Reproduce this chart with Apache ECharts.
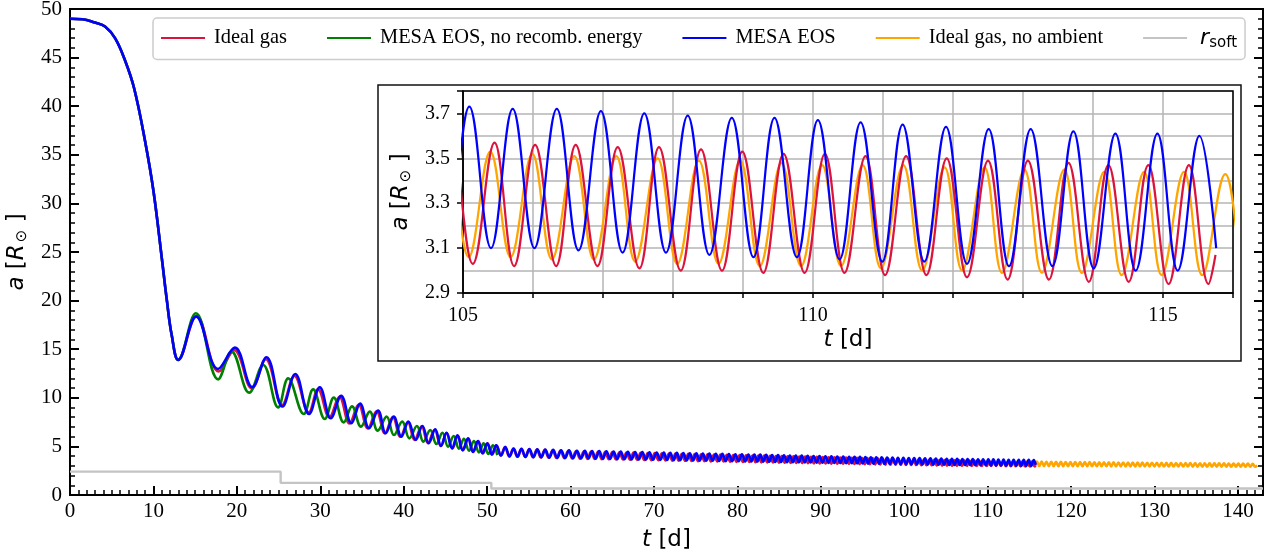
<!DOCTYPE html>
<html>
<head>
<meta charset="utf-8">
<script src="https://cdn.jsdelivr.net/npm/echarts@6.0.0/dist/echarts.min.js"></script>
<style>
  html, body { margin: 0; padding: 0; background: #fff; }
  #chart { width: 1272px; height: 558px; }
</style>
</head>
<body>
<div id="chart"></div>
<script>
// Orbital separation a [R_sun] against time t [d] for four runs of the same inspiral.
// Each run is stored as its turning points (maxima and minima of a), plus the common plunge.

// common plunge before the first minimum
const infall = [[0,49.0],[1.5,48.95],[3,48.6],[4.2,48.2],[5.4,47.0],[6.6,44.7],[7.7,41.8],[9.0,36.4],[10.0,31.3],[11.0,24.4],[11.6,20.1],[12.2,16.4],[12.97,13.9]];

// Ideal gas
const redPeaks = [[15.17,18.4],[19.7,14.9],[23.47,13.97],[26.9,12.25],[29.74,10.87],[32.3,10.1],[34.6,9.3],[36.75,8.62],[38.7,8.02],[40.5,7.5],[42.15,7.07],[43.7,6.72],[45.15,6.38],[46.5,6.1],[47.75,5.82],[48.93,5.56],[50.05,5.32],[51.12,5.12],[52.15,4.94],[53.15,4.76],
[54.09,4.73],[55.03,4.70],[55.97,4.67],[56.91,4.64],[57.85,4.61],[58.79,4.58],[59.73,4.55],[60.67,4.52],[61.61,4.50],
[62.46,4.48],[63.31,4.46],[64.16,4.44],[65.01,4.42],[65.86,4.40],[66.71,4.38],[67.56,4.36],[68.41,4.34],[69.26,4.32],[70.11,4.31],[70.96,4.29],[71.81,4.27],
[72.58,4.26],[73.35,4.24],[74.12,4.23],[74.89,4.21],[75.66,4.20],[76.43,4.18],[77.20,4.17],[77.97,4.15],[78.74,4.14],[79.51,4.12],[80.28,4.10],[81.05,4.09],[81.82,4.07],
[82.52,4.06],[83.22,4.05],[83.92,4.03],[84.62,4.02],[85.32,4.00],[86.02,3.99],[86.72,3.98],[87.42,3.96],[88.12,3.95],[88.82,3.93],[89.52,3.92],[90.22,3.91],[90.92,3.89],[91.62,3.88],[92.32,3.86],[93.02,3.85],[93.72,3.84],
[94.34,3.82],[94.95,3.81],[95.57,3.80],[96.19,3.79],[96.81,3.77],[97.42,3.76],[98.04,3.75],[98.66,3.74],[99.27,3.72],[99.89,3.71],[100.51,3.70],[101.12,3.68],[101.74,3.66],[102.36,3.65],[102.98,3.63],[103.59,3.62],[104.21,3.60],[104.83,3.59],
[105.45,3.57],[106.03,3.56],[106.61,3.56],[107.21,3.55],[107.80,3.55],[108.40,3.54],[108.99,3.53],[109.58,3.52],[110.17,3.52],[110.75,3.51],[111.33,3.51],[111.91,3.50],[112.50,3.49],[113.07,3.49],[113.65,3.48],[114.22,3.47],[114.79,3.47],[115.37,3.47]];
const redTroughs = [[17.84,12.7],[21.8,10.98],[25.43,9.25],[28.62,8.5],[31.1,8.0],[33.5,7.35],[35.7,6.85],[37.75,6.35],[39.6,6.0],[41.3,5.66],[42.9,5.33],[44.45,5.04],[45.85,4.80],[47.1,4.60],[48.35,4.43],[49.5,4.29],[50.6,4.17],[51.65,4.06],[52.65,3.97],
[53.62,3.93],[54.56,3.91],[55.50,3.88],[56.44,3.86],[57.38,3.83],[58.32,3.80],[59.26,3.78],[60.20,3.76],[61.14,3.74],
[62.04,3.72],[62.89,3.71],[63.74,3.69],[64.59,3.68],[65.44,3.66],[66.29,3.65],[67.14,3.63],[67.99,3.62],[68.84,3.60],[69.69,3.59],[70.54,3.57],[71.39,3.56],
[72.20,3.54],[72.97,3.53],[73.74,3.52],[74.51,3.50],[75.28,3.49],[76.05,3.48],[76.82,3.46],[77.59,3.45],[78.36,3.44],[79.13,3.42],[79.90,3.41],[80.67,3.40],[81.44,3.39],
[82.17,3.38],[82.87,3.36],[83.57,3.35],[84.27,3.34],[84.97,3.33],[85.67,3.32],[86.37,3.31],[87.07,3.30],[87.77,3.29],[88.47,3.28],[89.17,3.26],[89.87,3.25],[90.57,3.24],[91.27,3.23],[91.97,3.22],[92.67,3.21],[93.37,3.20],
[94.03,3.19],[94.65,3.18],[95.26,3.17],[95.88,3.16],[96.50,3.15],[97.12,3.14],[97.73,3.13],[98.35,3.12],[98.97,3.12],[99.58,3.11],[100.20,3.10],[100.82,3.09],[101.43,3.08],[102.05,3.07],[102.67,3.06],[103.28,3.06],[103.90,3.05],[104.52,3.04],
[105.14,3.03],[105.73,3.02],[106.33,3.02],[106.92,3.02],[107.52,3.01],[108.11,3.00],[108.70,3.00],[109.29,2.99],[109.88,2.99],[110.45,2.99],[111.03,2.98],[111.62,2.98],[112.20,2.97],[112.78,2.96],[113.37,2.96],[113.94,2.95],[114.51,2.95],[115.08,2.94],[115.65,2.94]];
const redEnd = [[115.75,3.07]];

// MESA EOS, no recombination energy
const greenPeaks = [[15.09,18.7],[19.36,14.75],[23.15,13.38],[26.15,12.0],[29.14,10.87],[31.62,10.02],[33.8,9.12],[35.93,8.58],[37.95,8.06],[39.82,7.55],[41.58,7.10],[43.18,6.69],[44.64,6.41],[45.99,6.07],[47.22,5.79],[48.42,5.56],[49.58,5.32],[50.7,5.12]];
const greenTroughs = [[17.76,11.9],[21.48,10.53],[24.95,9.02],[28.02,8.33],[30.54,7.82],[32.8,7.47],[34.88,7.03],[36.88,6.62],[38.83,6.17],[40.68,5.83],[42.36,5.49],[43.92,5.25],[45.32,4.97],[46.62,4.77],[47.83,4.56],[49.02,4.39],[50.15,4.22],[51.22,4.10]];

// MESA EOS
const bluePeaks = [[15.12,18.35],[19.76,15.16],[23.55,14.17],[27.0,12.45],[29.94,11.08],[32.5,10.2],[34.77,9.4],[36.92,8.68],[38.8,8.06],[40.56,7.55],[42.24,7.10],[43.78,6.76],[45.13,6.41],[46.43,6.14],[47.71,5.83],[48.9,5.56],[50.02,5.32],[51.1,5.11],[52.18,4.93],
[53.17,4.77],[54.12,4.75],[55.07,4.72],[56.02,4.69],[56.97,4.67],[57.92,4.64],[58.87,4.61],[59.82,4.59],[60.77,4.56],[61.72,4.55],
[62.58,4.53],[63.44,4.51],[64.30,4.49],[65.16,4.48],[66.02,4.46],[66.88,4.44],[67.74,4.43],[68.60,4.41],[69.46,4.39],[70.32,4.37],[71.18,4.36],
[71.96,4.34],[72.74,4.33],[73.52,4.32],[74.30,4.30],[75.08,4.29],[75.86,4.27],[76.64,4.26],[77.42,4.25],[78.20,4.23],[78.98,4.22],[79.76,4.20],[80.54,4.19],[81.32,4.17],
[82.03,4.16],[82.74,4.15],[83.45,4.13],[84.16,4.12],[84.87,4.10],[85.58,4.09],[86.29,4.07],[87.00,4.06],[87.71,4.05],[88.42,4.03],[89.13,4.02],[89.84,4.00],[90.55,3.99],[91.26,3.98],[91.97,3.96],[92.68,3.95],[93.39,3.94],
[94.04,3.93],[94.69,3.92],[95.34,3.90],[95.99,3.89],[96.64,3.88],[97.29,3.87],[97.94,3.86],[98.59,3.85],[99.24,3.84],[99.89,3.82],[100.54,3.81],[101.19,3.80],[101.84,3.79],[102.49,3.78],[103.14,3.77],[103.79,3.76],[104.44,3.74],
[105.09,3.73],[105.71,3.72],[106.34,3.72],[106.97,3.71],[107.59,3.70],[108.21,3.69],[108.84,3.68],[109.45,3.68],[110.07,3.67],[110.68,3.66],[111.28,3.65],[111.90,3.64],[112.51,3.63],[113.11,3.63],[113.72,3.62],[114.32,3.61],[114.92,3.61],[115.52,3.60]];
const blueTroughs = [[17.76,12.97],[21.84,11.1],[25.47,9.1],[28.66,8.33],[31.26,7.89],[33.73,7.38],[35.85,6.86],[37.84,6.35],[39.72,6.0],[41.44,5.66],[43.0,5.32],[44.47,5.04],[45.79,4.80],[47.07,4.60],[48.3,4.43],[49.46,4.29],[50.57,4.17],[51.65,4.06],[52.69,3.97],
[53.65,3.94],[54.60,3.92],[55.55,3.89],[56.50,3.87],[57.45,3.84],[58.40,3.82],[59.35,3.80],[60.30,3.78],[61.25,3.76],
[62.15,3.75],[63.01,3.73],[63.87,3.72],[64.73,3.70],[65.59,3.69],[66.45,3.68],[67.31,3.66],[68.17,3.65],[69.03,3.64],[69.89,3.62],[70.75,3.61],
[71.57,3.60],[72.35,3.58],[73.13,3.57],[73.91,3.56],[74.69,3.55],[75.47,3.54],[76.25,3.53],[77.03,3.52],[77.81,3.50],[78.59,3.49],[79.37,3.48],[80.15,3.47],[80.93,3.46],
[81.68,3.45],[82.39,3.44],[83.10,3.43],[83.81,3.42],[84.52,3.40],[85.23,3.39],[85.94,3.38],[86.65,3.37],[87.36,3.36],[88.07,3.35],[88.78,3.34],[89.49,3.33],[90.20,3.32],[90.91,3.31],[91.62,3.30],[92.33,3.29],[93.04,3.28],
[93.72,3.27],[94.37,3.26],[95.02,3.25],[95.67,3.24],[96.32,3.23],[96.97,3.22],[97.62,3.21],[98.27,3.20],[98.92,3.19],[99.57,3.18],[100.22,3.17],[100.87,3.16],[101.52,3.15],[102.17,3.14],[102.82,3.13],[103.47,3.12],[104.12,3.12],[104.77,3.11],
[105.40,3.10],[106.02,3.10],[106.65,3.09],[107.28,3.08],[107.90,3.08],[108.52,3.07],[109.15,3.06],[109.77,3.06],[110.38,3.05],[110.99,3.04],[111.59,3.04],[112.20,3.03],[112.80,3.02],[113.42,3.02],[114.01,3.01],[114.61,3.00],[115.21,3.00]];
const blueEnd = [[115.76,3.10]];

// Ideal gas, no ambient medium (runs longest)
const orangePeaks = [[104.79,3.54],[105.39,3.53],[105.99,3.52],[106.59,3.51],[107.19,3.51],[107.78,3.50],[108.37,3.49],[108.96,3.49],[109.55,3.48],[110.13,3.47],[110.71,3.47],[111.29,3.47],[111.88,3.46],[112.45,3.46],[113.02,3.45],[113.59,3.45],[114.16,3.44],[114.73,3.44],[115.30,3.44],[115.89,3.43],
[116.47,3.43],[117.04,3.42],[117.62,3.42],[118.19,3.41],[118.77,3.41],[119.34,3.40],[119.92,3.40],[120.49,3.39],[121.07,3.39],[121.64,3.38],[122.22,3.38],[122.79,3.37],[123.37,3.37],[123.94,3.36],[124.52,3.36],[125.09,3.36],[125.67,3.35],[126.24,3.35],[126.82,3.34],[127.39,3.34],[127.97,3.33],[128.54,3.33],[129.12,3.32],[129.69,3.32],[130.27,3.31],[130.84,3.31],[131.42,3.30],[131.99,3.30],[132.57,3.29],[133.14,3.29],[133.72,3.29],[134.29,3.28],[134.87,3.28],[135.44,3.27],[136.02,3.27],[136.59,3.26],[137.17,3.26],[137.74,3.25],[138.32,3.25],[138.89,3.24],[139.47,3.24],[140.04,3.23],[140.62,3.23],[141.19,3.23],[141.77,3.22]];
const orangeTroughs = [[104.49,3.07],[105.08,3.06],[105.68,3.06],[106.27,3.05],[106.87,3.05],[107.46,3.04],[108.06,3.03],[108.65,3.03],[109.24,3.02],[109.83,3.02],[110.40,3.02],[110.97,3.01],[111.56,3.00],[112.13,3.00],[112.70,2.99],[113.27,2.99],[113.84,2.99],[114.41,2.98],[114.98,2.98],[115.56,2.98],
[116.18,2.98],[116.75,2.98],[117.33,2.98],[117.90,2.97],[118.48,2.97],[119.05,2.97],[119.63,2.97],[120.20,2.97],[120.78,2.97],[121.35,2.96],[121.93,2.96],[122.50,2.96],[123.08,2.96],[123.65,2.96],[124.23,2.96],[124.80,2.95],[125.38,2.95],[125.95,2.95],[126.53,2.95],[127.10,2.95],[127.68,2.94],[128.25,2.94],[128.83,2.94],[129.40,2.94],[129.98,2.94],[130.55,2.94],[131.13,2.93],[131.70,2.93],[132.28,2.93],[132.85,2.93],[133.43,2.93],[134.00,2.93],[134.58,2.92],[135.15,2.92],[135.73,2.92],[136.30,2.92],[136.88,2.92],[137.45,2.92],[138.03,2.91],[138.60,2.91],[139.18,2.91],[139.75,2.91],[140.33,2.91],[140.90,2.91],[141.48,2.90],[142.05,2.90]];
const orangeEnd = [[142.31,3.03]];

// softening length of the companion's potential (step function)
const rsoftT = [0, 25.25, 50.5, 143];
const rsoftA = [2.4, 1.25, 0.67, 0.67];

// axis ticks
const mainXTicks = [0, 143, 10];
const mainYTicks = [0, 50, 5];
const insetXTicks = [105, 116, 1];
const insetYTicks = [2.9, 3.8];

const legendNames = ['Ideal gas', 'MESA EOS, no recomb. energy', 'MESA EOS', 'Ideal gas, no ambient', 'r_soft'];
const colors = { red: '#dc143c', green: '#008000', blue: '#0000ff', orange: '#ffa500', gray: '#c4c4c4' };

const SERIF = 'Liberation Serif';
const SANS = 'DejaVu Sans';

// join turning points into one time-ordered track
function track(...parts) {
  const pts = [].concat(...parts).map(p => [p[0], p[1]]);
  pts.sort((p, q) => p[0] - q[0]);
  return pts;
}
function window_(pts, lo, hi) {
  return pts.filter(p => p[0] >= lo && p[0] <= hi);
}

const redTrack = track(infall, redPeaks, redTroughs, redEnd);
const greenTrack = track(infall, greenPeaks, greenTroughs);
const blueTrack = track(infall, bluePeaks, blueTroughs, blueEnd);
const orangeTrack = track(orangePeaks, orangeTroughs, orangeEnd);
const rsoftTrack = rsoftT.map((t, i) => [t, rsoftA[i]]);

const SMOOTH = 0.4;
function lineSeries(name, data, color, xi, yi, z, width) {
  return {
    type: 'line', name, data, xAxisIndex: xi, yAxisIndex: yi,
    showSymbol: false, symbol: 'none', smooth: SMOOTH, silent: true,
    lineStyle: { color, width }, itemStyle: { color }, z, animation: false
  };
}

const mainLabelFont = { fontFamily: SERIF, fontSize: 21, color: '#000' };
const insetLabelFont = { fontFamily: SERIF, fontSize: 20, color: '#000' };
const nameRich = {
  i: { fontFamily: SANS, fontStyle: 'italic', fontSize: 23, color: '#000' },
  s: { fontFamily: SANS, fontSize: 15, color: '#000', padding: [12, 0, 0, 2] }
};
const nameStyle = { fontFamily: SANS, fontSize: 23, color: '#000', rich: nameRich };

const chart = echarts.init(document.getElementById('chart'), null, { renderer: 'canvas' });

const option = {
  animation: false,
  backgroundColor: '#fff',
  grid: [
    { left: 70, top: 9, width: 1193, height: 486, show: true, borderColor: '#000', borderWidth: 2, backgroundColor: 'transparent', containLabel: false, outerBoundsMode: 'none' },
    { left: 463, top: 91, width: 770, height: 202, show: true, borderColor: '#000', borderWidth: 1.5, backgroundColor: 'transparent', containLabel: false, outerBoundsMode: 'none', z: 13 }
  ],
  graphic: [
    { type: 'rect', z: 10, silent: true, shape: { x: 378, y: 85, width: 863, height: 276 }, style: { fill: '#fff', stroke: '#111', lineWidth: 1.5 } }
  ],
  legend: {
    data: legendNames,
    left: 153, top: 18,
    orient: 'horizontal',
    icon: 'rect', itemWidth: 44, itemHeight: 2, itemGap: 40,
    padding: [9, 8, 9, 8],
    borderColor: '#cccccc', borderWidth: 1.5, borderRadius: 4,
    backgroundColor: '#fff',
    selectedMode: false,
    textStyle: {
      fontFamily: SERIF, fontSize: 20.4, color: '#000', padding: [0, 0, 0, 4],
      rich: {
        ri: { fontFamily: SANS, fontStyle: 'italic', fontSize: 22, color: '#000', padding: [0, 0, 0, 4] },
        rs: { fontFamily: SANS, fontSize: 15, color: '#000', padding: [10, 0, 0, 0] }
      }
    },
    formatter: n => (n === 'r_soft' ? '{ri|r}{rs|soft}' : n)
  },
  xAxis: [
    { // main time axis
      type: 'value', gridIndex: 0, position: 'bottom',
      min: mainXTicks[0], max: mainXTicks[1], interval: mainXTicks[2],
      axisLine: { show: true, onZero: false, lineStyle: { color: '#000', width: 2 } },
      axisTick: { show: true, inside: true, length: 9, lineStyle: { color: '#000', width: 2 } },
      splitLine: { show: false },
      axisLabel: Object.assign({ margin: 6, formatter: v => (Math.abs(v % 10) < 1e-9 ? String(v) : '') }, mainLabelFont),
      name: '{i|t} [d]', nameLocation: 'middle', nameGap: 34, nameTextStyle: nameStyle
    },
    { // minor ticks every day
      type: 'value', gridIndex: 0, position: 'bottom',
      min: mainXTicks[0], max: mainXTicks[1], interval: 1,
      axisLine: { show: false, onZero: false },
      axisTick: { show: true, inside: true, length: 5, lineStyle: { color: '#000', width: 1.5 } },
      splitLine: { show: false }, axisLabel: { show: false }
    },
    { // inset time axis
      type: 'value', gridIndex: 1, position: 'bottom', z: 12,
      min: insetXTicks[0], max: insetXTicks[1], interval: insetXTicks[2],
      axisLine: { show: true, onZero: false, lineStyle: { color: '#000', width: 1.5 } },
      axisTick: { show: true, inside: false, length: 5, lineStyle: { color: '#000', width: 1.5 } },
      splitLine: { show: true, lineStyle: { color: '#b4b4b4', width: 1.5 } },
      axisLabel: Object.assign({ margin: 13, formatter: v => (Math.round(v) % 5 === 0 && Math.round(v) <= 115 ? String(Math.round(v)) : '') }, insetLabelFont),
      name: '{i|t} [d]', nameLocation: 'middle', nameGap: 36, nameTextStyle: nameStyle
    }
  ],
  yAxis: [
    { // main separation axis
      type: 'value', gridIndex: 0, position: 'left',
      min: mainYTicks[0], max: mainYTicks[1], interval: mainYTicks[2],
      axisLine: { show: true, onZero: false, lineStyle: { color: '#000', width: 2 } },
      axisTick: { show: true, inside: true, length: 9, lineStyle: { color: '#000', width: 2 } },
      minorTick: { show: true, splitNumber: 5, length: 5, lineStyle: { color: '#000', width: 1.5 } },
      splitLine: { show: false },
      axisLabel: Object.assign({ margin: 8 }, mainLabelFont),
      name: '{i|a} [{i|R}{s|⊙} ]', nameLocation: 'middle', nameGap: 30, nameRotate: 90, nameTextStyle: nameStyle
    },
    { // right-hand ticks
      type: 'value', gridIndex: 0, position: 'right',
      min: mainYTicks[0], max: mainYTicks[1], interval: mainYTicks[2],
      axisLine: { show: true, onZero: false, lineStyle: { color: '#000', width: 2 } },
      axisTick: { show: true, inside: true, length: 9, lineStyle: { color: '#000', width: 2 } },
      minorTick: { show: true, splitNumber: 5, length: 5, lineStyle: { color: '#000', width: 1.5 } },
      splitLine: { show: false }, axisLabel: { show: false }
    },
    { // inset grid lines every 0.1
      type: 'value', gridIndex: 1, position: 'left', z: 12,
      min: insetYTicks[0], max: insetYTicks[1], interval: 0.1,
      axisLine: { show: true, onZero: false, lineStyle: { color: '#000', width: 1.5 } },
      axisTick: { show: false }, axisLabel: { show: false },
      splitLine: { show: true, lineStyle: { color: '#b4b4b4', width: 1.5 } }
    },
    { // inset ticks and labels every 0.2
      type: 'value', gridIndex: 1, position: 'left', z: 12,
      min: insetYTicks[0], max: insetYTicks[1], interval: 0.2,
      axisLine: { show: false, onZero: false },
      axisTick: { show: true, inside: false, length: 6, lineStyle: { color: '#000', width: 1.5 } },
      splitLine: { show: false },
      axisLabel: Object.assign({ margin: 13, formatter: v => { const k = Math.round(v * 10); return (k % 2 === 1 && k < 38) ? (k / 10).toFixed(1) : ''; } }, insetLabelFont),
      name: '{i|a} [{i|R}{s|⊙} ]', nameLocation: 'middle', nameGap: 45, nameRotate: 90, nameTextStyle: nameStyle
    }
  ],
  series: [
    lineSeries('Ideal gas, no ambient', orangeTrack, colors.orange, 0, 0, 2, 2.6),
    lineSeries('Ideal gas', redTrack, colors.red, 0, 0, 3, 2.6),
    lineSeries('MESA EOS, no recomb. energy', greenTrack, colors.green, 0, 0, 3, 2.6),
    lineSeries('MESA EOS', blueTrack, colors.blue, 0, 0, 4, 2.6),
    Object.assign(lineSeries('r_soft', rsoftTrack, colors.gray, 0, 0, 2, 2.4), { smooth: false, step: 'end' }),
    lineSeries('Ideal gas, no ambient', window_(orangeTrack, 104.4, 116.5), colors.orange, 2, 2, 15, 2.2),
    lineSeries('Ideal gas', window_(redTrack, 104.4, 116.5), colors.red, 2, 2, 16, 2.2),
    lineSeries('MESA EOS', window_(blueTrack, 104.4, 116.5), colors.blue, 2, 2, 17, 2.2)
  ]
};

chart.setOption(option);
</script>
</body>
</html>
